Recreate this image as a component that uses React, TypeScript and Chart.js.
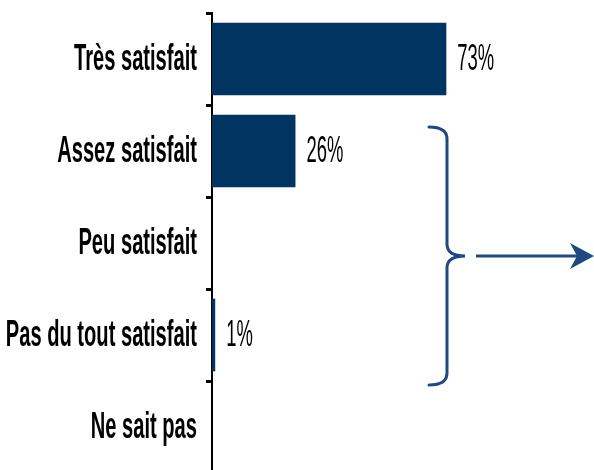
import React, { useEffect, useRef } from "react";
import { Chart, registerables } from "chart.js";

Chart.register(...registerables);

const categories = ["Très satisfait", "Assez satisfait", "Peu satisfait", "Pas du tout satisfait", "Ne sait pas"];
const values = [73, 26, 0, 1, 0];
const valueLabels = ["73%", "26%", "", "1%", ""];

const FONT_FAMILY = '"Liberation Sans Narrow", "Arial Narrow", "Liberation Sans", Arial, sans-serif';

const labelPlugin = {
  id: "customLabels",
  afterDatasetsDraw(chart: any) {
    const ctx = chart.ctx;
    const y = chart.scales.y;
    const x = chart.scales.x;
    const SY = 1.6;
    ctx.save();
    ctx.fillStyle = "#000";
    ctx.textBaseline = "middle";
    // category labels
    ctx.font = `bold 23px ${FONT_FAMILY}`;
    ctx.textAlign = "right";
    categories.forEach((c, i) => {
      const py = y.getPixelForValue(i);
      ctx.save();
      ctx.translate(197, py + 1);
      ctx.scale(0.875, SY);
      ctx.fillText(c, 0, 0);
      ctx.restore();
    });
    // value labels
    ctx.font = `23px ${FONT_FAMILY}`;
    ctx.textAlign = "left";
    values.forEach((v, i) => {
      if (!valueLabels[i]) return;
      const py = y.getPixelForValue(i);
      const px = x.getPixelForValue(v) + 11;
      ctx.save();
      ctx.translate(px, py + 1);
      ctx.scale(0.8, SY);
      ctx.fillText(valueLabels[i], 0, 0);
      ctx.restore();
    });
    ctx.restore();

    // brace and arrow
    ctx.save();
    ctx.strokeStyle = "#1F4A80";
    ctx.fillStyle = "#1F4A80";
    ctx.lineWidth = 3;
    ctx.lineCap = "round";
    const xs = 447, top = 127, bot = 385, mid = 256, tip = 465, lx = 429, r = 12;
    ctx.beginPath();
    ctx.moveTo(lx, top);
    ctx.quadraticCurveTo(xs, top, xs, top + r);
    ctx.lineTo(xs, mid - r);
    ctx.quadraticCurveTo(xs, mid, tip, mid);
    ctx.quadraticCurveTo(xs, mid, xs, mid + r);
    ctx.lineTo(xs, bot - r);
    ctx.quadraticCurveTo(xs, bot, lx, bot);
    ctx.stroke();
    // arrow
    ctx.lineCap = "butt";
    ctx.beginPath();
    ctx.moveTo(476, mid);
    ctx.lineTo(585, mid);
    ctx.stroke();
    ctx.beginPath();
    ctx.moveTo(594, mid);
    ctx.lineTo(570, mid - 13);
    ctx.lineTo(577, mid);
    ctx.lineTo(570, mid + 13);
    ctx.closePath();
    ctx.fill();
    ctx.restore();
  },
};

export default function App() {
  const ref = useRef<HTMLCanvasElement>(null);
  useEffect(() => {
    if (!ref.current) return;
    const chart = new Chart(ref.current, {
      type: "bar",
      data: {
        labels: categories,
        datasets: [
          {
            data: values,
            backgroundColor: "#023462",
            borderWidth: 0,
            barPercentage: 0.79,
            categoryPercentage: 1,
          },
        ],
      },
      options: {
        indexAxis: "y",
        animation: false,
        responsive: false,
        maintainAspectRatio: false,
        layout: { padding: { top: 13, bottom: 7, left: 206, right: 61 } },
        plugins: { legend: { display: false }, tooltip: { enabled: false } },
        scales: {
          x: { display: false, min: 0, max: 100 },
          y: {
            display: true,
            ticks: { display: false },
            grid: {
              display: true,
              drawOnChartArea: false,
              drawTicks: true,
              tickLength: 6,
              tickWidth: 3,
              color: "#000",
              offset: true,
            },
            border: { display: true, color: "#000", width: 2 },
          },
        },
      },
      plugins: [labelPlugin],
    });
    return () => chart.destroy();
  }, []);
  return (
    <div style={{ position: "fixed", left: 0, top: 0, width: 594, height: 480, background: "#fff" }}>
      <canvas ref={ref} width={594} height={480} style={{ display: "block", width: 594, height: 480 }} />
    </div>
  );
}
